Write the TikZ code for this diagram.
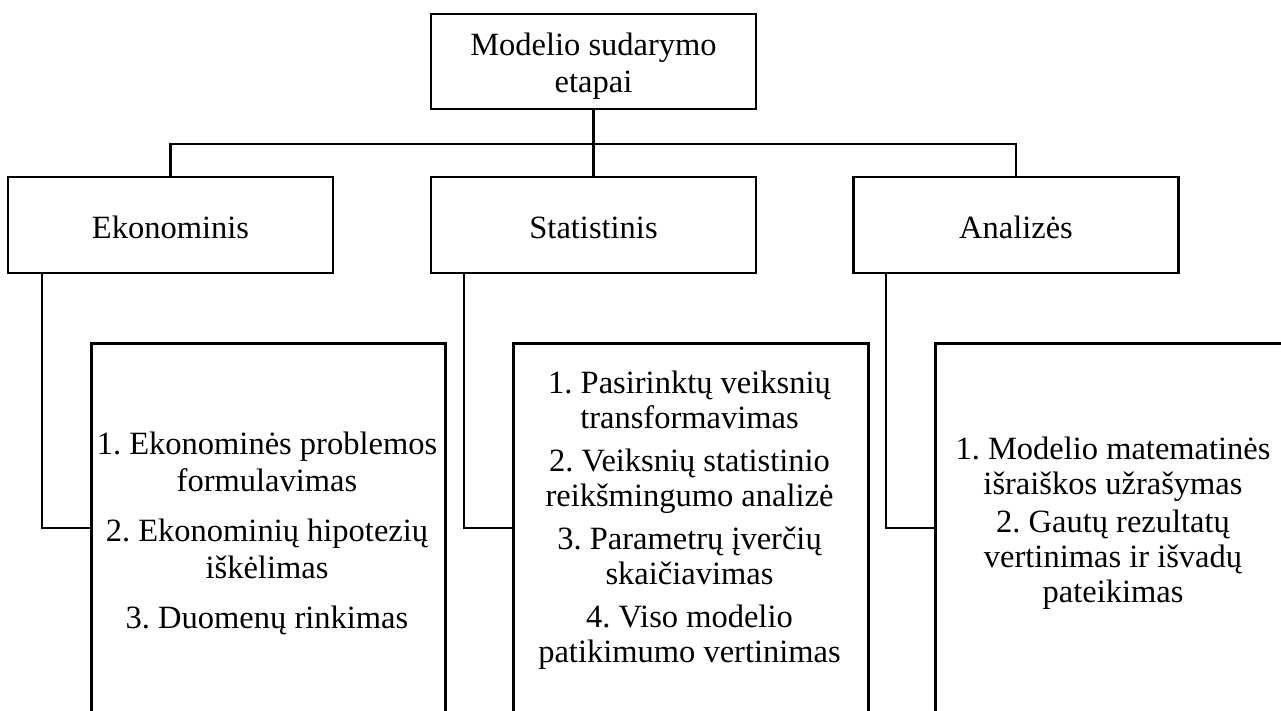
\documentclass[tikz,border=0pt]{standalone}
\usepackage{fontspec}
\setmainfont{Liberation Serif}
\frenchspacing
\begin{document}
\begin{tikzpicture}[x=1pt,y=-1pt,
  line width=2.8pt,
  every node/.style={font=\fontsize{32.5}{37}\selectfont},
  boxstyle/.style={draw, rectangle, minimum width=325pt, minimum height=96pt, inner sep=0pt, align=center},
  stagebox/.style={boxstyle, text height=26pt, text depth=0pt},
  stepbox/.style={draw, rectangle, anchor=north west, minimum height=420pt, inner sep=0pt},
  steptext/.style={anchor=north, inner sep=0pt, align=center},
  conn/.style={draw, line width=2.8pt}]
\useasboundingbox (0,0) rectangle (1281,710);
\clip (0,0) rectangle (1281,710);

% top box
\node[boxstyle, minimum height=95pt] (top) at (593.5,61.5) {};
\node[steptext, font=\fontsize{32.5}{37}\selectfont] (toptext) at (593.5,32) {Modelio sudarymo\\etapai};

% stage boxes
\node[stagebox] (eko)  at (170.5,225) {Ekonominis};
\node[stagebox] (stat) at (593.5,225) {Statistinis};
\node[stagebox] (ana)  at (1016,225)  {Analizės};

% step boxes (cut off at the bottom)
\node[stepbox, minimum width=354pt] (s1) at (90,342) {};
\node[stepbox, minimum width=355pt] (s2) at (512,342) {};
\node[stepbox, minimum width=420pt] (s3) at (934,342) {};

% step texts
\node[steptext, font=\fontsize{32.5}{37}\selectfont] (t1) at (267,431)
  {1. Ekonominės problemos\\formulavimas\\[13pt]2. Ekonominių hipotezių\\iškėlimas\\[13pt]3. Duomenų rinkimas};
\node[steptext, font=\fontsize{32.5}{35}\selectfont] (t2) at (689.5,370)
  {1. Pasirinktų veiksnių\\transformavimas\\[8pt]2. Veiksnių statistinio\\reikšmingumo analizė\\[8pt]3. Parametrų įverčių\\skaičiavimas\\[8pt]4. Viso modelio\\patikimumo vertinimas};
\node[steptext, font=\fontsize{32.5}{35}\selectfont] (t3) at (1113,436)
  {1. Modelio matematinės\\išraiškos užrašymas\\[3pt]2. Gautų rezultatų\\vertinimas ir išvadų\\pateikimas};

% connectors top -> stages
\coordinate (bar) at (593.5,144);
\draw[conn] (top.south) -- (stat.north);
\draw[conn] (eko.north) |- (bar) -| (ana.north);

% connectors stages -> steps
\coordinate (k1) at (42,528);
\coordinate (k2) at (464,528);
\coordinate (k3) at (886,528);
\draw[conn] (eko.south -| k1) -- (k1) -- (s1.west |- k1);
\draw[conn] (stat.south -| k2) -- (k2) -- (s2.west |- k2);
\draw[conn] (ana.south -| k3) -- (k3) -- (s3.west |- k3);
\end{tikzpicture}
\end{document}
